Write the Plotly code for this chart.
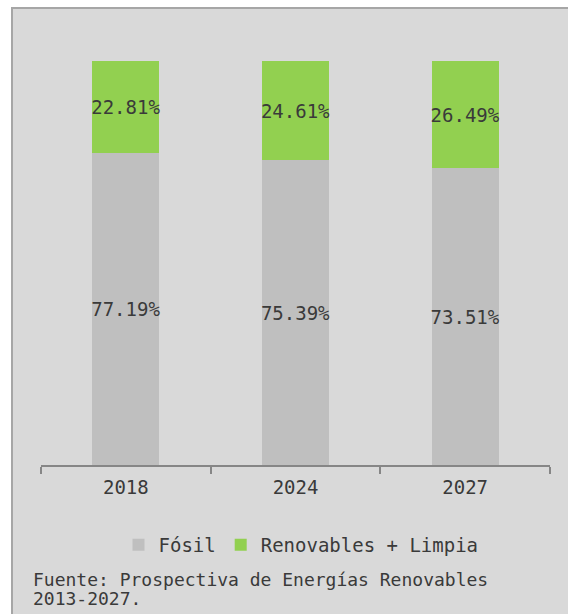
import plotly.graph_objects as go

years = ["2018", "2024", "2027"]
fosil = [77.19, 75.39, 73.51]
renovables = [22.81, 24.61, 26.49]
series_names = ["Fósil", "Renovables + Limpia"]
source_lines = ["Fuente: Prospectiva de Energías Renovables", "2013-2027."]

FONT = "DejaVu Sans Mono"
TXT = "#3a3a3a"
W, H = 568, 614
L, R, T, B = 41, 18, 61, 149
PW = W - L - R
PH = H - T - B


def px_x(px):
    return (px - L) / PW


def px_y(py):
    return 1 - (py - T) / PH


fig = go.Figure()
fig.add_trace(go.Bar(
    x=years, y=fosil, name=series_names[0], marker_color="#bfbfbf",
    marker_line_width=0,
    texttemplate="%{y:.2f}%", textposition="inside", insidetextanchor="middle",
    textangle=0, constraintext="none",
    textfont=dict(family=FONT, size=19, color=TXT),
))
fig.add_trace(go.Bar(
    x=years, y=renovables, name=series_names[1], marker_color="#92d050",
    marker_line_width=0,
    texttemplate="%{y:.2f}%", textposition="inside", insidetextanchor="middle",
    textangle=0, constraintext="none",
    textfont=dict(family=FONT, size=19, color=TXT),
))

shapes = [
    dict(type="rect", xref="paper", yref="paper", layer="below",
         x0=px_x(11), x1=px_x(575), y0=px_y(620), y1=px_y(7),
         fillcolor="#d9d9d9", line_width=0),
    dict(type="line", xref="paper", yref="paper", layer="below",
         x0=px_x(12), x1=px_x(12), y0=px_y(620), y1=px_y(7),
         line=dict(color="#a6a6a6", width=2)),
    dict(type="line", xref="paper", yref="paper", layer="below",
         x0=px_x(11), x1=px_x(575), y0=px_y(8), y1=px_y(8),
         line=dict(color="#a6a6a6", width=2)),
]

annotations = []
for line, cy in zip(source_lines, [579, 598]):
    annotations.append(dict(
        xref="paper", yref="paper", x=px_x(31), y=px_y(cy),
        xanchor="left", yanchor="middle", align="left", showarrow=False,
        text=line, font=dict(family=FONT, size=18, color=TXT),
    ))

fig.update_layout(
    width=W, height=H,
    margin=dict(l=L, r=R, t=T, b=B, pad=0),
    paper_bgcolor="white",
    plot_bgcolor="rgba(0,0,0,0)",
    barmode="stack",
    bargap=0.605,
    shapes=shapes,
    font=dict(family=FONT, color=TXT),
    xaxis=dict(
        type="category", tickson="boundaries", ticks="outside", ticklen=7,
        tickcolor="#868686", tickwidth=1.5,
        showline=True, linecolor="#868686", linewidth=1.5,
        showgrid=False, tickfont=dict(family=FONT, size=19, color=TXT),
        ticklabelstandoff=4,
        range=[-0.5, 2.5],
    ),
    yaxis=dict(range=[0, 100], visible=False, showgrid=False),
    legend=dict(
        orientation="h", x=px_x(301), xanchor="center",
        y=px_y(545), yanchor="middle", traceorder="normal",
        font=dict(family=FONT, size=19, color=TXT),
        bgcolor="rgba(0,0,0,0)", itemwidth=30,
    ),
    annotations=annotations,
)

fig.write_html(
    "out.html",
    config={"displayModeBar": False},
    post_script="document.body.style.margin='0';document.body.style.overflow='hidden';",
)
